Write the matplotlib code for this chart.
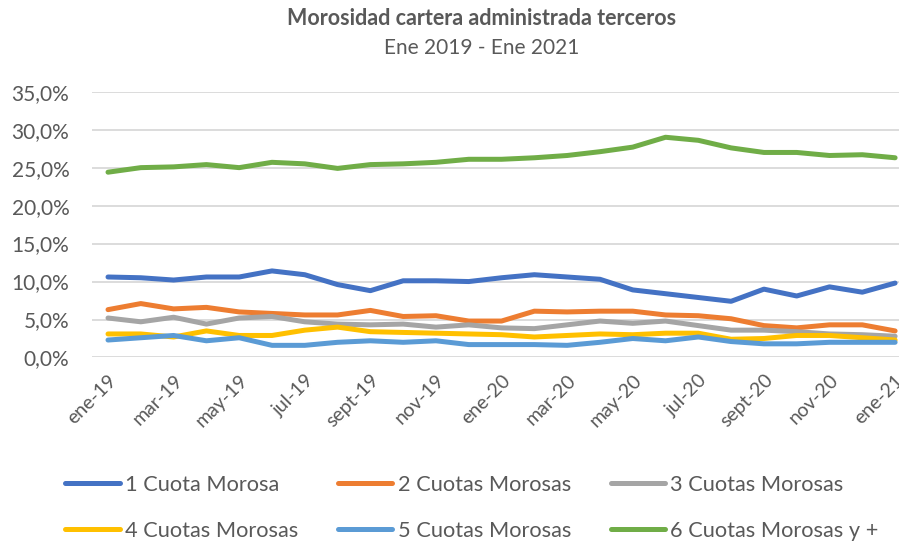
import numpy as np
import matplotlib.pyplot as plt
from matplotlib.ticker import FuncFormatter

# monthly data, ene-19 .. ene-21 (percent)
months = ['ene', 'feb', 'mar', 'abr', 'may', 'jun', 'jul', 'ago', 'sept', 'oct', 'nov', 'dic']
labels = [f'{months[i % 12]}-{19 + i // 12}' for i in range(25)]

cuota1 = [10.6, 10.5, 10.2, 10.6, 10.6, 11.4, 10.9, 9.6, 8.8, 10.1, 10.1, 10.0, 10.5,
          10.9, 10.6, 10.3, 8.9, 8.4, 7.9, 7.4, 9.0, 8.1, 9.3, 8.6, 9.8]
cuota2 = [6.3, 7.1, 6.4, 6.6, 6.0, 5.8, 5.6, 5.6, 6.2, 5.4, 5.5, 4.8, 4.8,
          6.1, 6.0, 6.1, 6.1, 5.6, 5.5, 5.1, 4.2, 3.9, 4.3, 4.3, 3.5]
cuota3 = [5.2, 4.7, 5.3, 4.4, 5.2, 5.4, 4.7, 4.4, 4.3, 4.4, 4.0, 4.3, 3.9,
          3.8, 4.3, 4.8, 4.5, 4.8, 4.2, 3.6, 3.6, 3.4, 3.1, 3.0, 2.8]
cuota4 = [3.1, 3.1, 2.7, 3.5, 2.9, 2.9, 3.6, 4.0, 3.4, 3.3, 3.2, 3.1, 3.0,
          2.7, 2.9, 3.1, 3.0, 3.2, 3.2, 2.4, 2.5, 2.9, 2.9, 2.6, 2.3]
cuota5 = [2.3, 2.6, 2.9, 2.2, 2.6, 1.6, 1.6, 2.0, 2.2, 2.0, 2.2, 1.7, 1.7,
          1.7, 1.6, 2.0, 2.5, 2.2, 2.7, 2.1, 1.8, 1.8, 2.0, 2.0, 2.0]
cuota6 = [24.4, 25.0, 25.1, 25.4, 25.0, 25.7, 25.5, 24.9, 25.4, 25.5, 25.7, 26.1, 26.1,
          26.3, 26.6, 27.1, 27.7, 29.0, 28.6, 27.6, 27.0, 27.0, 26.6, 26.7, 26.3]

series = [cuota1, cuota2, cuota3, cuota4, cuota5, cuota6]
names = ['1 Cuota Morosa', '2 Cuotas Morosas', '3 Cuotas Morosas',
         '4 Cuotas Morosas', '5 Cuotas Morosas', '6 Cuotas Morosas y +']
colors = ['#4472C4', '#ED7D31', '#A5A5A5', '#FFC000', '#5B9BD5', '#70AD47']

plt.rcParams['font.family'] = ['Lato', 'DejaVu Sans']
txt = '#595959'

fig = plt.figure(figsize=(8.99, 5.41), dpi=100)
ax = fig.add_axes([0.1019, 0.3392, 0.912, 0.4913])

x = np.arange(len(labels))
handles = []
for vals, name, c in zip(series, names, colors):
    l, = ax.plot(x, np.array(vals) / 100, color=c, lw=3.6, solid_capstyle='round', label=name)
    handles.append(l)

ax.set_xlim(-0.5, 24.5)
ax.set_ylim(0, 0.35)
ax.set_yticks(np.arange(0, 0.351, 0.05))
ax.yaxis.set_major_formatter(FuncFormatter(lambda v, p: f'{v * 100:.1f}%'.replace('.', ',')))
ax.grid(axis='y', color='#D9D9D9', lw=1.3)
ax.set_axisbelow(True)
for s in ax.spines.values():
    s.set_visible(False)
ax.tick_params(length=0, colors=txt)
ax.tick_params(axis='y', pad=16, labelsize=15)

ax.set_xticks(x[::2])
ax.set_xticklabels(labels[::2], rotation=45, ha='right', rotation_mode='anchor')
ax.tick_params(axis='x', pad=10, labelsize=14)

fig.text(0.5356, 0.966, 'Morosidad cartera administrada terceros', ha='center', va='center',
         fontsize=15.5, fontweight='bold', color=txt)
fig.text(0.5356, 0.912, 'Ene 2019 - Ene 2021', ha='center', va='center', fontsize=15, color=txt)

# legend filled row by row: 1 2 3 / 4 5 6
order = [0, 3, 1, 4, 2, 5]
fig.legend([handles[i] for i in order], [names[i] for i in order], ncol=3,
           loc='lower left', bbox_to_anchor=(0.051, -0.036), frameon=False,
           fontsize=15.7, labelcolor=txt, handlelength=2.5, handletextpad=0.25,
           columnspacing=1.8, labelspacing=1.2)

plt.savefig('out.png', dpi=100)
